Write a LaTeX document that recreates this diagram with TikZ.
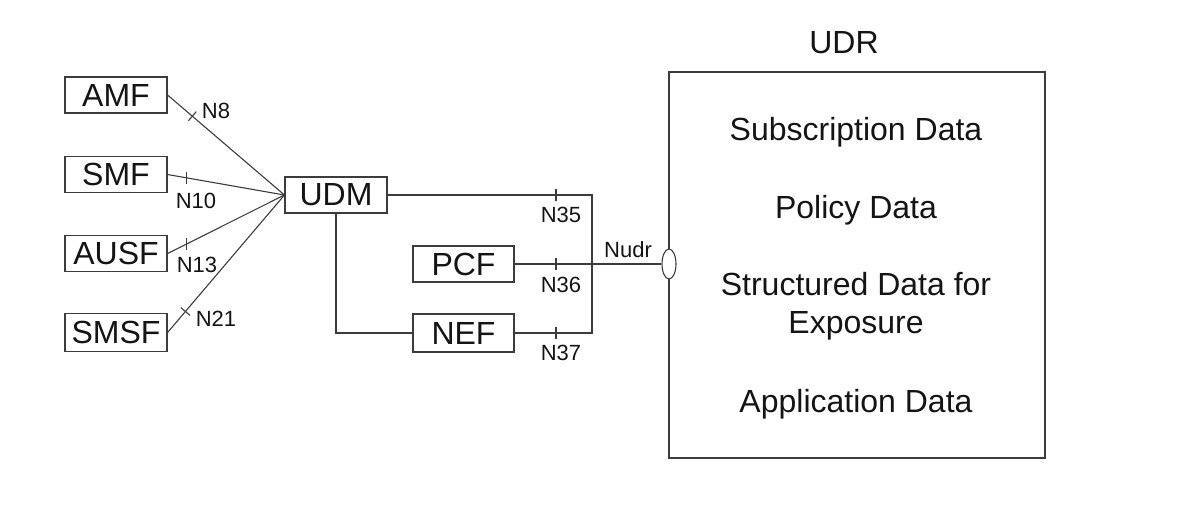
\documentclass[tikz,border=0pt]{standalone}
\usepackage{fontspec}
\setmainfont{Liberation Sans}
\usetikzlibrary{shapes.geometric,calc}
\definecolor{linec}{RGB}{60,60,60}
\definecolor{txtc}{RGB}{20,20,20}
\begin{document}
\begin{tikzpicture}[x=1pt,y=-1pt,
  nf/.style={draw=linec,line width=1.1pt,fill=white,inner sep=0pt,minimum width=102pt,minimum height=36pt,text=txtc,font=\fontsize{32}{36}\selectfont},
  big/.style={text=txtc,font=\fontsize{32}{38}\selectfont,inner sep=0pt},
  lbl/.style={text=txtc,font=\fontsize{22}{26}\selectfont,inner sep=0pt},
  conn/.style={draw=linec,line width=1.1pt},
  tick/.style={draw=linec,line width=1.1pt}]
\useasboundingbox (0,0) rectangle (1182,504);
% UDR box
\node[draw=linec,line width=1.1pt,minimum width=376pt,minimum height=386pt,inner sep=0pt] (udr) at (857,265) {};
\node[big,anchor=base] (udrt) at (844,53) {UDR};
\node[big,anchor=base] (d1) at (856,140) {Subscription Data};
\node[big,anchor=base] (d2) at (856,218) {Policy Data};
\node[big,anchor=base] (d3) at (856,295) {Structured Data for};
\node[big,anchor=base] (d4) at (856,333) {Exposure};
\node[big,anchor=base] (d5) at (856,412) {Application Data};
% NF boxes
\node[nf] (amf) at (116,95) {AMF};
\node[nf] (smf) at (116,174.5) {SMF};
\node[nf] (ausf) at (116,253.5) {AUSF};
\node[nf,minimum height=38pt] (smsf) at (116,332.5) {SMSF};
\node[nf] (udm) at (336,195) {UDM};
\node[nf,minimum width=101pt] (pcf) at (463.5,264) {PCF};
\node[nf,minimum width=101pt,minimum height=38pt] (nef) at (463.5,333) {NEF};
\node[ellipse,draw=linec,line width=1.1pt,fill=white,minimum width=14pt,minimum height=30pt,inner sep=0pt] (ell) at (669,264) {};
% left connectors
\draw[conn] (amf.east) -- (udm.west) coordinate[pos=0.212] (t8);
\draw[conn] (smf.east) -- (udm.west) coordinate[pos=0.161] (t10);
\draw[conn] (ausf.east) -- (udm.west) coordinate[pos=0.161] (t13);
\draw[conn] (smsf.east) -- (udm.west) coordinate[pos=0.153] (t21);
\draw[tick] ($(t8)!6pt!90:(udm.west)$) -- ($(t8)!6pt!-90:(udm.west)$);
\draw[tick] ($(t21)!6pt!90:(udm.west)$) -- ($(t21)!6pt!-90:(udm.west)$);
\draw[tick] ([yshift=6pt]t10) -- ([yshift=-6pt]t10);
\draw[tick] ([yshift=6pt]t13) -- ([yshift=-6pt]t13);
\node[lbl] (n8) at (216,110.5) {N8};
\node[lbl] (n10) at (196,201) {N10};
\node[lbl] (n13) at (197,264.5) {N13};
\node[lbl] (n21) at (216,318.5) {N21};
% right connectors
\coordinate (j35) at (592,195);
\coordinate (j37) at (592,333);
\draw[conn] (udm.east) -- (j35) -- (j37) -- (nef.east);
\draw[conn] (udm.south) |- (nef.west);
\draw[conn] (pcf.east) -- (ell.west);
\coordinate (t35) at (556,195);
\coordinate (t36) at (556,264);
\coordinate (t37) at (556,333);
\draw[tick] ([yshift=6pt]t35) -- ([yshift=-6pt]t35);
\draw[tick] ([yshift=6pt]t36) -- ([yshift=-6pt]t36);
\draw[tick] ([yshift=6pt]t37) -- ([yshift=-6pt]t37);
\node[lbl] (n35) at (561,215) {N35};
\node[lbl] (n36) at (561,284.5) {N36};
\node[lbl] (n37) at (561,352.5) {N37};
\node[lbl] (nudr) at (628,250) {Nudr};
\end{tikzpicture}
\end{document}
